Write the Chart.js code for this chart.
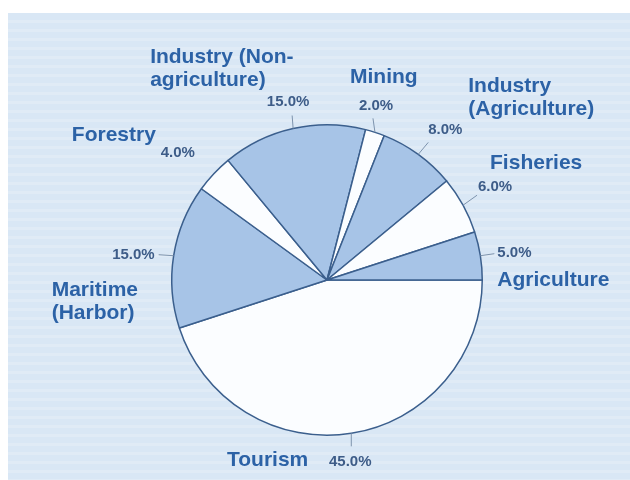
<!DOCTYPE html>
<html>
<head>
<meta charset="utf-8">
<style>
  html, body { margin: 0; padding: 0; background: #ffffff; }
  #wrap { width: 630px; height: 480px; position: relative; }
</style>
<script src="https://cdn.jsdelivr.net/npm/chart.js@4.4.1/dist/chart.umd.min.js"></script>
</head>
<body>
<div id="wrap"><canvas id="c" width="630" height="480"></canvas></div>
<script>
// Sector shares, listed clockwise starting from the 3 o'clock position
const sectors = ['Tourism', 'Maritime (Harbor)', 'Forestry', 'Industry (Non-agriculture)', 'Mining', 'Industry (Agriculture)', 'Fisheries', 'Agriculture'];
const shares = [45, 15, 4, 15, 2, 8, 6, 5];
const nameLines = [['Tourism'], ['Maritime', '(Harbor)'], ['Forestry'], ['Industry (Non-', 'agriculture)'], ['Mining'], ['Industry', '(Agriculture)'], ['Fisheries'], ['Agriculture']];
const sliceColors = ['#fbfdff', '#a7c4e7', '#fbfdff', '#a7c4e7', '#fbfdff', '#a7c4e7', '#fbfdff', '#a7c4e7'];

// Label placement relative to each slice's outer-edge midpoint:
// pct: [dx, dy, align], name: [dx, dy, align] (first line), lead: leader end [dx, dy] or null
const labelLayout = [
  { pct: [-1, 29, 'center'],   name: [-43, 27, 'right'], lead: [0, 13] },
  { pct: [-19, -1, 'right'],   name: [-122, 34, 'left'], lead: [-15, -1] },
  { pct: [-36, -21, 'center'], name: [-142, -39, 'left'], lead: null },
  { pct: [-5, -27, 'center'],  name: [-143, -71, 'left'], lead: [-1, -13] },
  { pct: [1, -26, 'center'],   name: [-25, -55, 'left'], lead: [-2, -14] },
  { pct: [27, -25, 'center'],  name: [50, -68, 'left'], lead: [10, -12] },
  { pct: [32, -18, 'center'],  name: [27, -42, 'left'], lead: [14, -10] },
  { pct: [17, -3, 'left'],     name: [17, 24, 'left'], lead: [14, -2] }
];

const backdrop = {
  id: 'backdrop',
  beforeDraw(chart) {
    const ctx = chart.ctx;
    ctx.save();
    ctx.fillStyle = '#ffffff';
    ctx.fillRect(0, 0, chart.width, chart.height);
    ctx.fillStyle = '#d9e7f5';
    ctx.fillRect(8, 13, chart.width - 8, chart.height - 13);
    // faint horizontal streaks of the printed page
    ctx.fillStyle = 'rgba(255,255,255,0.18)';
    for (let y = 20; y < chart.height; y += 9) {
      ctx.fillRect(8, y, chart.width - 8, 3);
    }
    ctx.restore();
  }
};

const sliceLabels = {
  id: 'sliceLabels',
  afterDatasetsDraw(chart) {
    const ctx = chart.ctx;
    const meta = chart.getDatasetMeta(0);
    ctx.save();
    meta.data.forEach((arc, i) => {
      const p = arc.getProps(['x', 'y', 'startAngle', 'endAngle', 'outerRadius'], true);
      const mid = (p.startAngle + p.endAngle) / 2;
      const ex = p.x + Math.cos(mid) * p.outerRadius;
      const ey = p.y + Math.sin(mid) * p.outerRadius;
      const lay = labelLayout[i];
      if (lay.lead) {
        ctx.strokeStyle = '#7d93ad';
        ctx.lineWidth = 1;
        ctx.beginPath();
        ctx.moveTo(ex, ey);
        ctx.lineTo(ex + lay.lead[0], ey + lay.lead[1]);
        ctx.stroke();
      }
      ctx.textBaseline = 'middle';
      ctx.font = 'bold 15px "Liberation Sans", Arial, sans-serif';
      ctx.fillStyle = '#3d5c88';
      ctx.textAlign = lay.pct[2];
      ctx.fillText(shares[i].toFixed(1) + '%', ex + lay.pct[0], ey + lay.pct[1]);
      ctx.font = 'bold 21px "Liberation Sans", Arial, sans-serif';
      ctx.fillStyle = '#2c62a6';
      ctx.textAlign = lay.name[2];
      nameLines[i].forEach((line, k) => {
        ctx.fillText(line, ex + lay.name[0], ey + lay.name[1] + k * 23);
      });
    });
    ctx.restore();
  }
};

new Chart(document.getElementById('c'), {
  type: 'pie',
  data: {
    labels: sectors,
    datasets: [{
      data: shares,
      backgroundColor: sliceColors,
      borderColor: '#3b5f8d',
      borderWidth: 1.5
    }]
  },
  options: {
    responsive: false,
    animation: false,
    rotation: 90,
    layout: { padding: { left: 171, right: 147, top: 124, bottom: 44 } },
    plugins: {
      legend: { display: false },
      tooltip: { enabled: false }
    }
  },
  plugins: [backdrop, sliceLabels]
});
</script>
</body>
</html>
